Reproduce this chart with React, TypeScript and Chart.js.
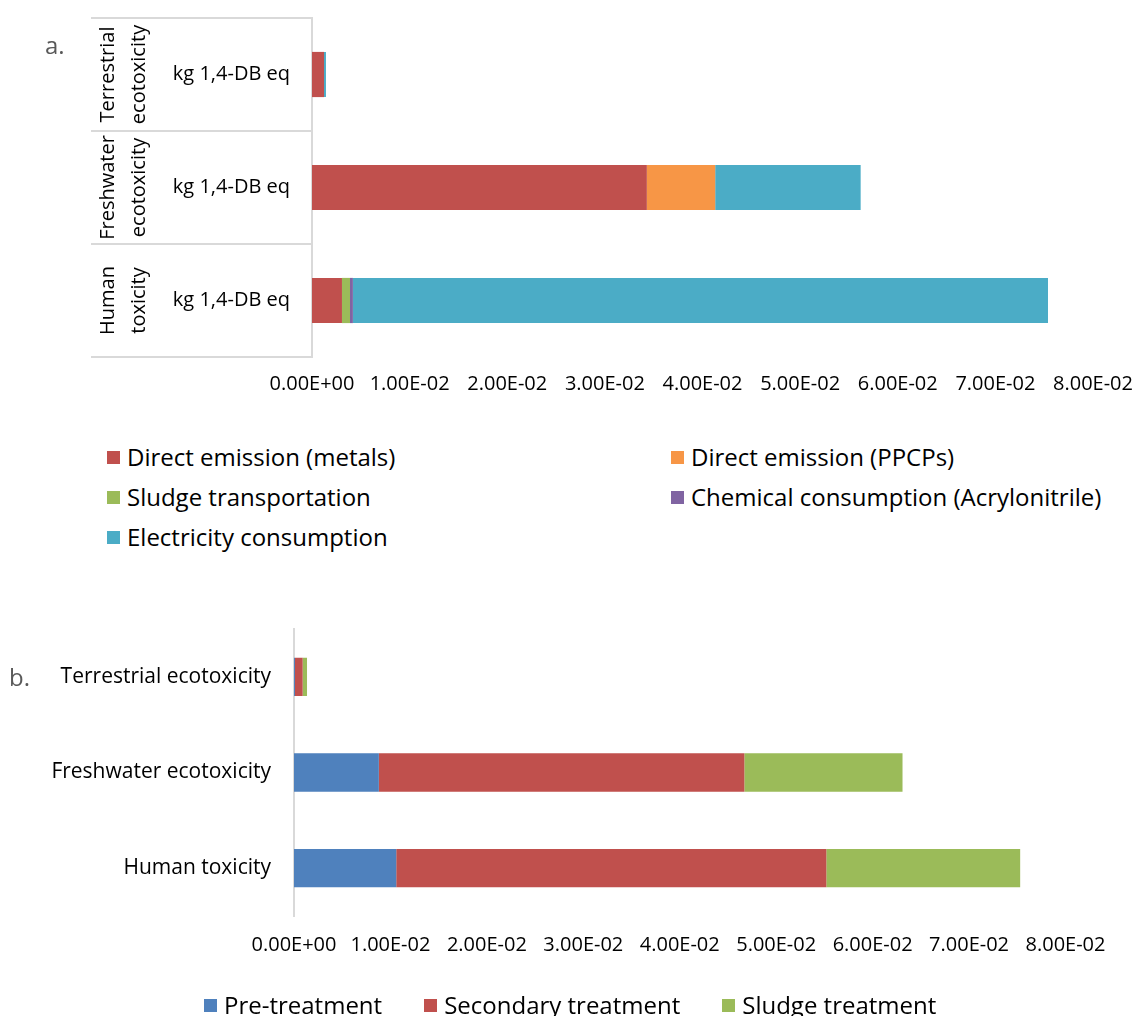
import React, { useEffect, useRef } from "react";
import { Chart, registerables } from "chart.js";

Chart.register(...registerables);

const FONT = "'Open Sans', sans-serif";

// ---------- shared tick labels ----------
const xTickLabels = [
  "0.00E+00", "1.00E-02", "2.00E-02", "3.00E-02", "4.00E-02",
  "5.00E-02", "6.00E-02", "7.00E-02", "8.00E-02",
];

// ---------- chart a ----------
const categoriesA = ["Terrestrial ecotoxicity", "Freshwater ecotoxicity", "Human toxicity"];
const categoryLinesA = [["Terrestrial", "ecotoxicity"], ["Freshwater", "ecotoxicity"], ["Human", "toxicity"]];
const unitsA = ["kg 1,4-DB eq", "kg 1,4-DB eq", "kg 1,4-DB eq"];

const metalsA = [0.00123, 0.0343, 0.00307];
const ppcpsA = [0, 0.0070, 0];
const sludgeTransportA = [0, 0, 0.00082];
const chemicalA = [0, 0, 0.0003];
const electricityA = [0.0002, 0.0149, 0.0712];

const seriesLabelsA = [
  "Direct emission (metals)",
  "Direct emission (PPCPs)",
  "Sludge transportation",
  "Chemical consumption (Acrylonitrile)",
  "Electricity consumption",
];
const seriesColorsA = ["#C0504D", "#F79646", "#9BBB59", "#8064A2", "#4BACC6"];
const seriesDataA = [metalsA, ppcpsA, sludgeTransportA, chemicalA, electricityA];

// ---------- chart b ----------
const categoriesB = ["Terrestrial ecotoxicity", "Freshwater ecotoxicity", "Human toxicity"];
const preTreatmentB = [0.0001, 0.0088, 0.0106];
const secondaryTreatmentB = [0.0008, 0.0379, 0.0446];
const sludgeTreatmentB = [0.00045, 0.0164, 0.0201];

const seriesLabelsB = ["Pre-treatment", "Secondary treatment", "Sludge treatment"];
const seriesColorsB = ["#4F81BD", "#C0504D", "#9BBB59"];
const seriesDataB = [preTreatmentB, secondaryTreatmentB, sludgeTreatmentB];

function makeDatasets(labels: string[], data: number[][], colors: string[]) {
  return labels.map((label, i) => ({
    label,
    data: data[i],
    backgroundColor: colors[i],
    borderWidth: 0,
    barPercentage: 0.4,
    categoryPercentage: 1,
  }));
}

function xAxis(tickPadding: number, height: number) {
  return {
    stacked: true,
    min: 0,
    max: 0.08,
    grid: { display: false, drawTicks: false },
    border: { display: false },
    ticks: {
      stepSize: 0.01,
      padding: tickPadding,
      color: "#000",
      autoSkip: false,
      maxRotation: 0,
      font: { family: FONT, size: 20 },
      callback: (_v: any, i: number) => xTickLabels[i],
    },
    afterFit: (s: any) => {
      s.height = height;
      s.paddingLeft = 0;
      s.paddingRight = 0;
    },
  };
}

function yAxis(width: number, padding: number, size: number, labels?: string[]) {
  const ticks: any = {
    padding,
    color: "#000",
    font: { family: FONT, size },
  };
  if (labels) ticks.callback = (_v: any, i: number) => labels[i];
  return {
    stacked: true,
    grid: { display: false, drawTicks: false },
    border: { display: true, color: "#d9d9d9", width: 2 },
    ticks,
    afterFit: (s: any) => {
      s.width = width;
      s.paddingTop = 0;
      s.paddingBottom = 0;
    },
  };
}

function ChartA() {
  const ref = useRef<HTMLCanvasElement>(null);
  useEffect(() => {
    const tablePlugin = {
      id: "tableA",
      afterDraw(chart: any) {
        const { ctx, chartArea, scales } = chart;
        const y = scales.y;
        const n = categoriesA.length;
        const band = (chartArea.bottom - chartArea.top) / n;
        ctx.save();
        ctx.strokeStyle = "#d9d9d9";
        ctx.lineWidth = 2;
        for (let k = 0; k <= n; k++) {
          const yy = Math.round(chartArea.top + k * band);
          ctx.beginPath();
          ctx.moveTo(91, yy);
          ctx.lineTo(chartArea.left - 1, yy);
          ctx.stroke();
        }
        ctx.fillStyle = "#000";
        ctx.font = `20px ${FONT}`;
        ctx.textAlign = "center";
        ctx.textBaseline = "middle";
        categoryLinesA.forEach((lines, i) => {
          const cy = y.getPixelForValue(i);
          ctx.save();
          ctx.translate(123.5, cy);
          ctx.rotate(-Math.PI / 2);
          lines.forEach((t, j) => ctx.fillText(t, 0, (j - (lines.length - 1) / 2) * 31));
          ctx.restore();
        });
        ctx.restore();
      },
    };
    const chart = new Chart(ref.current as HTMLCanvasElement, {
      type: "bar",
      data: {
        labels: categoriesA,
        datasets: makeDatasets(seriesLabelsA, seriesDataA, seriesColorsA) as any,
      },
      options: {
        indexAxis: "y",
        responsive: false,
        animation: false,
        layout: { padding: { left: 0, top: 18, right: 43, bottom: 0 } },
        plugins: { legend: { display: false }, tooltip: { enabled: false } },
        scales: {
          x: xAxis(15, 43) as any,
          y: yAxis(312, 22, 20, unitsA) as any,
        },
      },
      plugins: [tablePlugin],
    });
    return () => chart.destroy();
  }, []);
  return (
    <canvas
      ref={ref}
      width={1136}
      height={400}
      style={{ position: "absolute", left: 0, top: 0, width: 1136, height: 400 }}
    />
  );
}

function ChartB() {
  const ref = useRef<HTMLCanvasElement>(null);
  useEffect(() => {
    const chart = new Chart(ref.current as HTMLCanvasElement, {
      type: "bar",
      data: {
        labels: categoriesB,
        datasets: makeDatasets(seriesLabelsB, seriesDataB, seriesColorsB) as any,
      },
      options: {
        indexAxis: "y",
        responsive: false,
        animation: false,
        layout: { padding: { left: 0, top: 29, right: 70.5, bottom: 0 } },
        plugins: { legend: { display: false }, tooltip: { enabled: false } },
        scales: {
          x: xAxis(17, 100) as any,
          y: yAxis(294, 23, 21) as any,
        },
      },
    });
    return () => chart.destroy();
  }, []);
  return (
    <canvas
      ref={ref}
      width={1136}
      height={416}
      style={{ position: "absolute", left: 0, top: 600, width: 1136, height: 416 }}
    />
  );
}

const textStyle: React.CSSProperties = {
  fontFamily: FONT,
  fontSize: 24,
  lineHeight: "28px",
  color: "#000",
  whiteSpace: "nowrap",
};

function LegendItem({ label, color }: { label: string; color: string }) {
  return (
    <div style={{ display: "flex", alignItems: "center", ...textStyle }}>
      <span style={{ display: "inline-block", width: 13, height: 13, background: color, marginRight: 7 }} />
      <span>{label}</span>
    </div>
  );
}

export default function App() {
  const colLeft = [107, 671];
  return (
    <div
      style={{
        position: "absolute",
        left: 0,
        top: 0,
        width: 1136,
        height: 1016,
        background: "#fff",
        overflow: "hidden",
      }}
    >
      <ChartA />
      <ChartB />
      <div style={{ position: "absolute", left: 45, top: 28, fontFamily: FONT, fontSize: 24, color: "#595959" }}>a.</div>
      <div style={{ position: "absolute", left: 9, top: 660, fontFamily: FONT, fontSize: 24, color: "#595959" }}>b.</div>
      {seriesLabelsA.map((label, i) => (
        <div
          key={label}
          style={{ position: "absolute", left: colLeft[i % 2], top: 443 + 40 * Math.floor(i / 2) }}
        >
          <LegendItem label={label} color={seriesColorsA[i]} />
        </div>
      ))}
      <div style={{ position: "absolute", left: 204, top: 991, display: "flex", gap: 42 }}>
        {seriesLabelsB.map((label, i) => (
          <LegendItem key={label} label={label} color={seriesColorsB[i]} />
        ))}
      </div>
    </div>
  );
}
